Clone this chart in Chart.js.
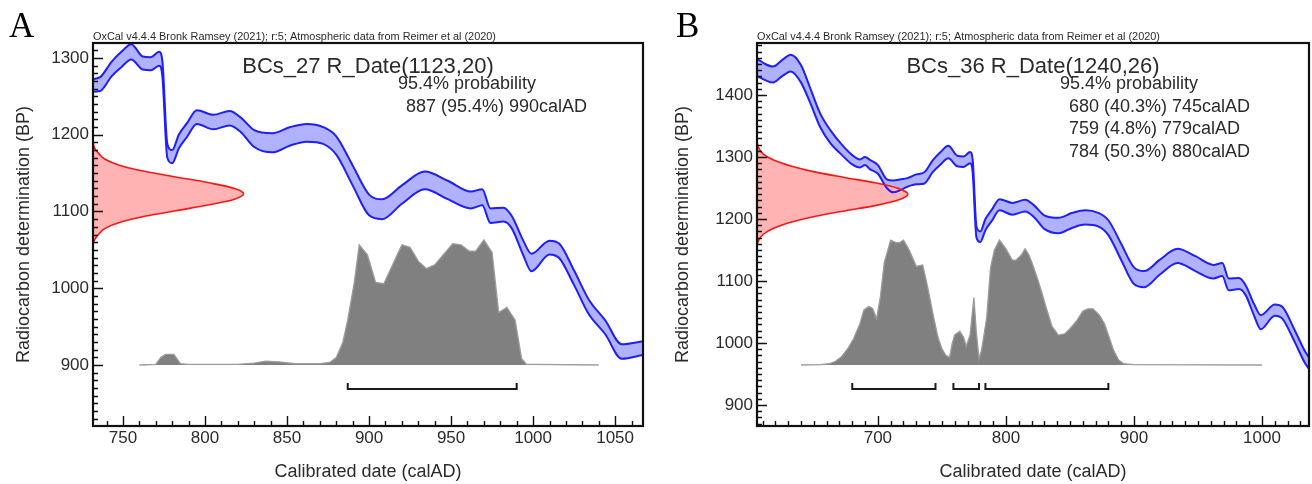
<!DOCTYPE html>
<html>
<head>
<meta charset="utf-8">
<script src="https://cdn.jsdelivr.net/npm/chart.js@4.4.0/dist/chart.umd.min.js"></script>
<style>
  html, body { margin: 0; padding: 0; background: #fff; }
  #wrap { position: relative; width: 1312px; height: 484px; overflow: hidden; }
  .panel { position: absolute; top: 0; width: 656px; height: 484px; }
  .letter { position: absolute; top: 8px; font-family: "Liberation Serif", "Times New Roman", serif; font-size: 35px; line-height: 35px; color: #000; }
</style>
</head>
<body>
<div id="wrap">
  <div class="panel" style="left:0"><canvas id="chartA" width="656" height="484"></canvas></div>
  <div class="panel" style="left:656px"><canvas id="chartB" width="656" height="484"></canvas></div>
  <div class="letter" style="left:9px">A</div>
  <div class="letter" style="left:676px">B</div>
</div>
<script>
// calibration curve band (IntCal20 as drawn, upper / lower edge in BP), shared by both panels
const calYears = [606, 612, 618, 625, 632, 640, 647, 655, 663, 671, 680, 686, 690, 694, 700, 707, 712, 718, 723, 730,
  736, 743, 749, 755, 762, 767, 772, 774, 777, 780, 784, 789, 795, 805, 815, 822, 830, 841, 852, 862,
  872, 880, 890, 900, 908, 920, 934, 948, 962, 969, 974, 982, 987, 994, 999, 1010, 1016, 1025, 1034, 1044, 1054, 1067];
const calUpper = [1458, 1450, 1446, 1456, 1465, 1448, 1412, 1370, 1343, 1322, 1303, 1296, 1300, 1295, 1287, 1264, 1262, 1264, 1266, 1272,
  1275, 1295, 1308, 1318, 1302, 1301, 1308, 1296, 1188, 1180, 1200, 1215, 1232, 1226, 1231, 1222, 1206, 1202, 1210, 1214,
  1210, 1198, 1160, 1122, 1116, 1134, 1152, 1140, 1126, 1129, 1104, 1105, 1094, 1062, 1045, 1062, 1058, 1023, 985, 958, 927, 931];
const calLower = [1430, 1424, 1420, 1430, 1438, 1420, 1388, 1348, 1322, 1305, 1288, 1283, 1287, 1280, 1273, 1250, 1243, 1247, 1252, 1256,
  1257, 1276, 1288, 1298, 1285, 1284, 1290, 1276, 1170, 1163, 1182, 1197, 1214, 1207, 1212, 1203, 1184, 1177, 1186, 1191,
  1188, 1174, 1134, 1095, 1090, 1110, 1129, 1116, 1104, 1108, 1085, 1087, 1078, 1043, 1022, 1044, 1039, 1004, 966, 940, 908, 913];

// panel A : BCs_27
const aName = "BCs_27 R_Date(1123,20)";
const aXTicks = [750, 800, 850, 900, 950, 1000, 1050];
const aYTicks = [900, 1000, 1100, 1200, 1300];
const aGaussBP = [1056, 1063, 1071, 1078, 1086, 1094, 1101, 1109, 1116, 1123, 1130, 1137, 1145, 1152, 1160, 1168, 1175, 1183, 1190];
const aGaussDens = [0, 0.01, 0.04, 0.08, 0.18, 0.35, 0.55, 0.78, 0.94, 1, 0.94, 0.78, 0.55, 0.35, 0.18, 0.08, 0.04, 0.01, 0];
const aProbYears = [760, 770, 773, 776, 781, 785, 790, 800, 820, 830, 837, 845, 855, 870, 876, 880, 884, 887, 891, 894,
  899, 904, 909, 920, 925, 930, 935, 940, 951, 956, 961, 965, 970, 975, 979, 984, 989, 993, 996, 1000, 1040];
const aProbDens = [0, 0.005, 0.06, 0.085, 0.085, 0.01, 0.005, 0.005, 0.005, 0.015, 0.03, 0.025, 0.01, 0.01, 0.02, 0.06, 0.18, 0.36, 0.66, 0.96,
  0.88, 0.66, 0.65, 0.96, 0.94, 0.83, 0.77, 0.80, 0.97, 0.96, 0.91, 0.91, 1.0, 0.90, 0.42, 0.46, 0.36, 0.05, 0.005, 0.005, 0];
const aRangeFrom = [887];
const aRangeTo = [990];
const aRangePct = [95.4];

// panel B : BCs_36
const bName = "BCs_36 R_Date(1240,26)";
const bXTicks = [700, 800, 900, 1000];
const bYTicks = [900, 1000, 1100, 1200, 1300, 1400];
const bGaussBP = [1158, 1165, 1175, 1185, 1195, 1204, 1213, 1222, 1231, 1240, 1249, 1258, 1267, 1276, 1285, 1295, 1305, 1315, 1325];
const bGaussDens = [0, 0.01, 0.04, 0.11, 0.23, 0.38, 0.58, 0.79, 0.94, 1, 0.94, 0.79, 0.58, 0.38, 0.23, 0.11, 0.04, 0.01, 0];
const bProbYears = [640, 655, 662, 667, 672, 677, 681, 686, 689, 693, 696, 699, 702, 705, 710, 714, 717, 720, 724, 727,
  730, 735, 739, 743, 747, 750, 753, 756, 758, 760, 764, 767, 769, 772, 775, 777, 779, 781, 785, 788,
  791, 795, 800, 805, 808, 812, 815, 818, 821, 825, 828, 832, 836, 841, 846, 850, 855, 860, 864, 868,
  873, 877, 880, 884, 888, 892, 900, 1000];
const bProbDens = [0, 0.003, 0.01, 0.03, 0.07, 0.14, 0.21, 0.33, 0.44, 0.47, 0.45, 0.37, 0.55, 0.82, 1.0, 0.98, 0.98, 1.0, 0.93, 0.86,
  0.79, 0.80, 0.62, 0.41, 0.22, 0.13, 0.08, 0.06, 0.17, 0.24, 0.27, 0.22, 0.15, 0.24, 0.54, 0.25, 0.05, 0.12, 0.38, 0.78,
  0.92, 1.0, 0.93, 0.84, 0.84, 0.88, 0.93, 0.88, 0.80, 0.68, 0.58, 0.44, 0.31, 0.24, 0.25, 0.29, 0.35, 0.43, 0.45, 0.45,
  0.40, 0.33, 0.24, 0.12, 0.04, 0.01, 0.003, 0];
const bRangeFrom = [680, 759, 784];
const bRangeTo = [745, 779, 880];
const bRangePct = [40.3, 4.8, 50.3];

const HEADER = "OxCal v4.4.4 Bronk Ramsey (2021); r:5; Atmospheric data from Reimer et al (2020)";
const INK = '#2b2b2b';
const FONT = "'Liberation Sans', Arial, Helvetica, sans-serif";

Chart.defaults.font.family = FONT;
Chart.defaults.color = INK;

function pts(xs, ys) {
  return xs.map((x, i) => ({ x: x, y: ys[i] }));
}

function bracketPoints(from, to, lvl, tip) {
  const out = [];
  from.forEach((s, i) => {
    out.push({ x: s, y: tip }, { x: s, y: lvl }, { x: to[i], y: lvl }, { x: to[i], y: tip }, { x: to[i], y: null });
  });
  return out;
}

// frame, inward ticks and the text block
const oxcalFrame = {
  id: 'oxcalFrame',
  afterDraw(chart, args, opts) {
    const { ctx, chartArea: a } = chart;
    const sx = chart.scales.x, sy = chart.scales.y;
    ctx.save();
    ctx.strokeStyle = '#111';
    ctx.lineWidth = 1.4;
    ctx.beginPath();
    for (let v = Math.ceil(sx.min / 10) * 10; v <= sx.max; v += 10) {
      const p = Math.round(sx.getPixelForValue(v)) + 0.5;
      const len = v % opts.xMajor === 0 ? 10 : 5;
      ctx.moveTo(p, a.bottom);
      ctx.lineTo(p, a.bottom - len);
    }
    for (let v = Math.ceil(sy.min / 10) * 10; v <= sy.max; v += 10) {
      const p = Math.round(sy.getPixelForValue(v)) + 0.5;
      const len = v % 100 === 0 ? 10 : 5;
      ctx.moveTo(a.left, p);
      ctx.lineTo(a.left + len, p);
    }
    ctx.stroke();
    ctx.lineWidth = 2.2;
    ctx.strokeRect(a.left, a.top, a.width, a.height);

    ctx.fillStyle = INK;
    ctx.textBaseline = 'middle';
    // header above the frame, squeezed like the original
    ctx.font = '11px ' + FONT;
    ctx.textAlign = 'left';
    const w = ctx.measureText(HEADER).width;
    ctx.save();
    ctx.translate(a.left, 37);
    ctx.scale(opts.headerWidth / w, 1);
    ctx.fillText(HEADER, 0, 0);
    ctx.restore();

    ctx.font = '22px ' + FONT;
    ctx.textAlign = 'center';
    ctx.fillText(opts.name, (a.left + a.right) / 2, 67);

    ctx.font = '18px ' + FONT;
    ctx.textAlign = 'left';
    ctx.fillText('95.4% probability', opts.probLeft, 84);
    opts.from.forEach((s, i) => {
      ctx.fillText(s + ' (' + opts.pct[i] + '%) ' + opts.to[i] + 'calAD', opts.lineLeft, 107 + i * 22.5);
    });
    ctx.restore();
  }
};

function makeChart(id, p) {
  const xg = (p.xMax - p.xMin) / (p.gaussPeakYear - p.xMin);
  const span = p.probTop - p.probBase;
  new Chart(document.getElementById(id), {
    type: 'line',
    data: {
      datasets: [
        {
          data: bracketPoints(p.from, p.to, -0.192, -0.144),
          xAxisID: 'x', yAxisID: 'yp',
          borderColor: '#1a1a1a', borderWidth: 2, pointRadius: 0, fill: false, tension: 0, spanGaps: false
        },
        {
          data: pts(p.gaussDens, p.gaussBP),
          indexAxis: 'y', xAxisID: 'xg', yAxisID: 'y',
          borderColor: '#ff1414', borderWidth: 1.6, backgroundColor: '#ffb3b3',
          fill: 'origin', pointRadius: 0, cubicInterpolationMode: 'monotone'
        },
        {
          data: pts(calYears, calUpper),
          xAxisID: 'x', yAxisID: 'y',
          borderColor: '#1e1eff', borderWidth: 2, backgroundColor: '#b0b2ff',
          fill: '+1', pointRadius: 0, cubicInterpolationMode: 'monotone'
        },
        {
          data: pts(calYears, calLower),
          xAxisID: 'x', yAxisID: 'y',
          borderColor: '#1e1eff', borderWidth: 2, fill: false, pointRadius: 0, cubicInterpolationMode: 'monotone'
        },
        {
          data: pts(p.probYears, p.probDens),
          xAxisID: 'x', yAxisID: 'yp',
          borderColor: '#9c9c9c', borderWidth: 1.3, backgroundColor: '#808080',
          fill: 'origin', pointRadius: 0, tension: 0
        }
      ]
    },
    options: {
      responsive: false,
      animation: false,
      events: [],
      layout: { padding: { top: 43, right: p.padRight, left: 0, bottom: 0 } },
      plugins: {
        legend: { display: false },
        tooltip: { enabled: false },
        filler: { drawTime: 'beforeDatasetsDraw' },
        oxcalFrame: {
          xMajor: p.xStep, name: p.name, headerWidth: 403,
          probLeft: p.probLeft, lineLeft: p.lineLeft,
          from: p.from, to: p.to, pct: p.pct
        }
      },
      scales: {
        x: {
          type: 'linear', position: 'bottom', min: p.xMin, max: p.xMax,
          grid: { display: false, drawTicks: false }, border: { display: false },
          afterBuildTicks: s => { s.ticks = p.xTicks.map(v => ({ value: v })); },
          ticks: { padding: 2, font: { size: 17 }, color: INK,
                   maxRotation: 0, autoSkip: false, callback: v => String(v) },
          title: { display: true, text: 'Calibrated date (calAD)', font: { size: 18 }, color: INK,
                   padding: { top: 0, bottom: 1 } },
          afterFit: s => { s.height = 58; }
        },
        y: {
          type: 'linear', position: 'left', min: p.yMin, max: p.yMax,
          grid: { display: false, drawTicks: false }, border: { display: false },
          afterBuildTicks: s => { s.ticks = p.yTicks.map(v => ({ value: v })); },
          ticks: { padding: 4, font: { size: 17 }, color: INK,
                   autoSkip: false, callback: v => String(v) },
          title: { display: true, text: 'Radiocarbon determination (BP)', font: { size: 18 }, color: INK,
                   padding: { top: p.yTitlePad, bottom: 0 } },
          afterFit: s => { s.width = p.yAxisWidth; }
        },
        xg: { type: 'linear', axis: 'x', position: 'bottom', display: false, min: 0, max: xg },
        yp: { type: 'linear', axis: 'y', position: 'left', display: false,
              min: (p.yMin - p.probBase) / span, max: (p.yMax - p.probBase) / span }
      }
    },
    plugins: [oxcalFrame]
  });
}

makeChart('chartA', {
  name: aName, xMin: 731.7, xMax: 1067, yMin: 820.5, yMax: 1319.5, xStep: 50,
  xTicks: aXTicks, yTicks: aYTicks,
  gaussPeakYear: 823.5, probBase: 900, probTop: 1063,
  gaussBP: aGaussBP, gaussDens: aGaussDens, probYears: aProbYears, probDens: aProbDens,
  from: aRangeFrom, to: aRangeTo, pct: aRangePct,
  yAxisWidth: 93, padRight: 13, yTitlePad: 13, probLeft: 398, lineLeft: 406
});

makeChart('chartB', {
  name: bName, xMin: 605.6, xMax: 1036.7, yMin: 866.1, yMax: 1483.9, xStep: 100,
  xTicks: bXTicks, yTicks: bYTicks,
  gaussPeakYear: 723.4, probBase: 964.5, probTop: 1166,
  gaussBP: bGaussBP, gaussDens: bGaussDens, probYears: bProbYears, probDens: bProbDens,
  from: bRangeFrom, to: bRangeTo, pct: bRangePct,
  yAxisWidth: 101, padRight: 3, yTitlePad: 16, probLeft: 404, lineLeft: 413
});
</script>
</body>
</html>
